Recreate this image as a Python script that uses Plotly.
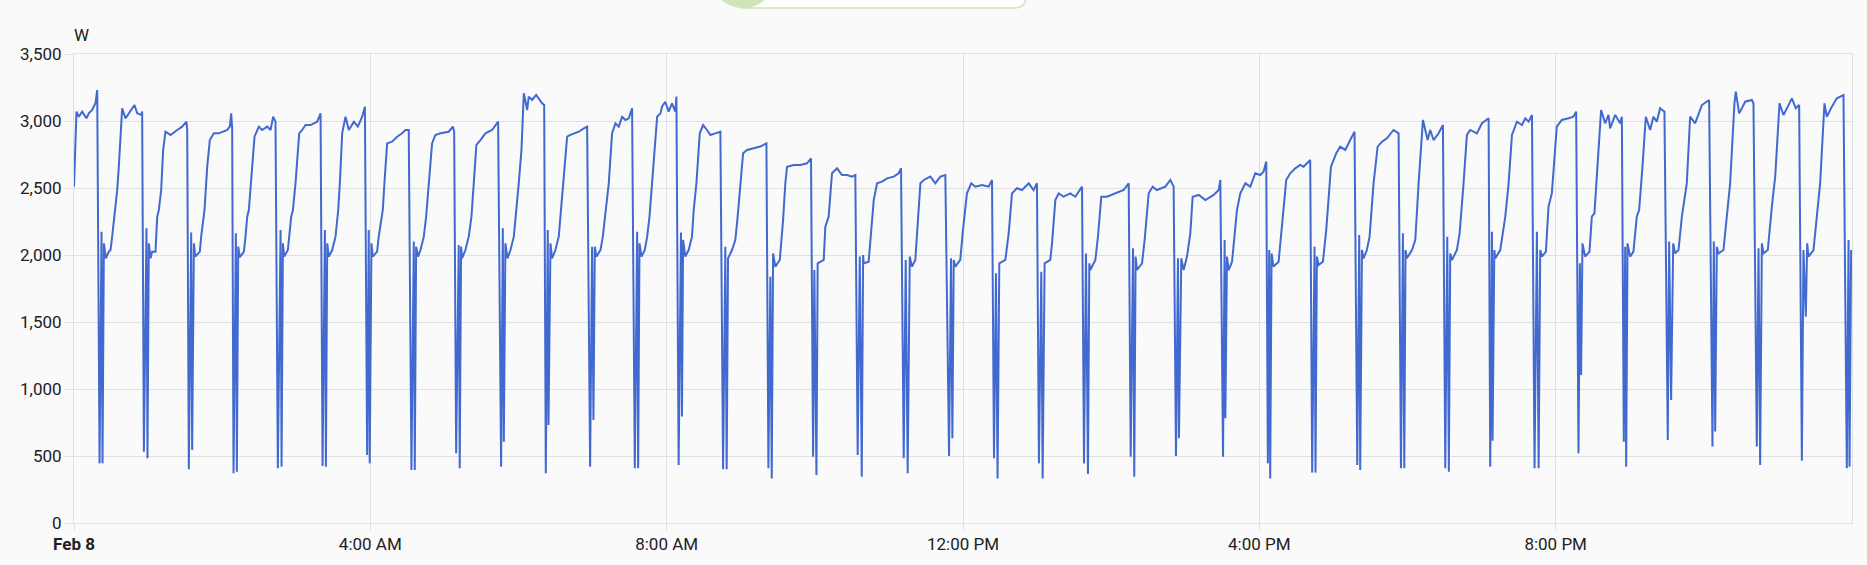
import pandas as pd
import plotly.graph_objects as go

# ---------------- data (minutes after midnight, Feb 8 -> watts) ----------------
seg1_min = [0.0, 2.0, 3.9, 6.6, 10.1, 12.0, 14.7, 17.4, 18.8,
            20.7, 22.3, 23.1, 24.2, 25.8, 28.2, 29.6, 30.9, 32.8, 35.0, 36.3, 37.7, 39.0, 41.7, 45.2, 49.0, 51.2, 54.4, 55.2,
            56.6, 58.7, 59.5, 60.6, 62.0, 63.3, 66.0, 67.4, 68.7, 70.6, 72.2, 74.1, 78.2, 83.6, 87.6, 91.1, 91.7,
            93.0, 94.9, 95.7, 97.1, 98.2, 101.9, 103.0, 104.6, 105.7, 107.9, 110.0, 113.3, 117.3, 124.1, 126.2, 127.3, 128.1,
            129.2, 131.1, 131.9, 133.0, 134.3, 137.6, 138.9, 140.3, 141.6, 143.5, 146.2, 149.7, 152.4, 156.5, 159.2, 161.3, 163.2,
            165.1, 167.3, 168.1, 169.2, 170.2, 173.2, 174.3, 175.9, 177.3, 179.4, 182.4, 184.8, 187.5, 191.6, 197.0, 199.7,
            201.3, 203.2, 204.0, 205.1, 206.4, 209.1, 211.8, 214.0, 215.3, 217.2, 219.9, 222.6, 226.7, 229.9, 233.4, 235.6,
            237.4, 238.7, 239.5, 240.9, 242.0, 245.5, 246.8, 249.0, 250.1, 251.4, 253.6, 257.6, 261.7, 265.7, 268.4, 271.1,
            273.3, 275.2, 276.0, 277.1, 278.7, 280.6, 283.3, 285.2, 287.3, 290.0, 292.7, 296.8, 303.5, 306.8, 307.9,
            309.5, 311.6, 312.4, 313.5, 314.3, 317.0, 319.7, 321.9, 323.8, 325.9, 329.2, 333.2, 338.6, 343.5,
            345.9, 347.3, 348.1, 349.4, 351.1, 353.5, 356.2, 358.1]
seg1_w = [2510, 3070, 3032, 3070, 3020, 3057, 3082, 3132, 3231,
          445, 2174, 445, 2087, 1975, 2025, 2037, 2137, 2286, 2485, 2659, 2908, 3095, 3020, 3070, 3119, 3057, 3045, 3070,
          532, 2199, 483, 2087, 1975, 2025, 2025, 2286, 2336, 2485, 2784, 2920, 2896, 2933, 2958, 2995, 2933,
          401, 2167, 545, 2087, 1988, 2025, 2137, 2286, 2336, 2659, 2858, 2908, 2908, 2933, 2958, 3057, 2945,
          371, 2162, 383, 2062, 1983, 2025, 2137, 2286, 2336, 2535, 2883, 2958, 2933, 2958, 2933, 3032, 2995,
          408, 2187, 420, 2087, 1988, 2037, 2137, 2286, 2336, 2535, 2908, 2933, 2970, 2970, 2995, 3057,
          425, 2187, 420, 2087, 1988, 2037, 2137, 2336, 2535, 2908, 3032, 2933, 2995, 2958, 3032, 3107,
          507, 2187, 445, 2087, 1988, 2025, 2137, 2286, 2336, 2535, 2833, 2846, 2883, 2908, 2933, 2933,
          395, 2100, 395, 2062, 1988, 2037, 2137, 2286, 2535, 2833, 2896, 2908, 2920, 2958, 2920,
          520, 2075, 408, 2062, 1975, 2037, 2137, 2286, 2535, 2821, 2858, 2908, 2933, 2995,
          420, 2199, 607, 2087, 1975, 2037, 2137, 2311]

seg2_min = [360.2, 362.4, 364.3, 367.0, 368.3, 371.0, 374.3, 379.1, 380.8,
            382.1, 383.7, 384.3, 385.9, 387.2, 389.9, 392.6, 394.0, 396.7, 399.4, 402.1, 404.8, 408.8, 412.9, 415.6,
            418.0, 419.6, 420.7, 421.8, 423.1, 426.4, 428.3, 429.9, 433.1, 435.8, 438.5, 441.2, 443.9, 446.6, 449.3, 452.0,
            454.2, 456.1, 456.9, 458.0, 459.6, 462.3, 464.2, 466.1, 468.2, 472.3, 475.0, 476.2, 478.9, 481.6, 484.3, 487.0, 487.9,
            489.7, 491.6, 492.4, 493.3, 495.1, 497.8, 500.5, 501.9, 504.1, 506.8, 509.5, 512.7, 515.4, 519.4, 523.5,
            525.7, 527.5, 528.6, 529.7, 532.9, 535.6, 537.5, 539.7, 541.9, 545.1, 550.5, 555.9, 560.8,
            562.4, 564.0, 565.1, 566.2, 568.0, 571.6, 574.3, 576.1, 577.5, 582.9, 588.3, 593.7, 596.9,
            598.6, 599.6, 601.3, 602.3, 607.2, 608.5, 611.2, 613.9, 618.0, 622.0, 626.1, 630.1, 632.8,
            634.7, 636.4, 638.0, 639.1, 639.6, 643.6, 645.5, 647.7, 650.4, 654.4, 658.5, 663.9, 667.9, 669.8,
            672.0, 673.6, 675.2, 676.9, 678.7, 681.4, 682.8, 685.5, 688.2, 693.6, 697.6, 701.7, 705.7,
            708.7, 710.3, 711.4, 712.5, 713.8, 717.8, 719.7]
seg2_w = [2535, 2784, 3207, 3082, 3182, 3157, 3194, 3132, 3119,
          371, 2187, 731, 2087, 1975, 2037, 2137, 2286, 2535, 2883, 2896, 2908, 2920, 2945, 2958,
          420, 2062, 769, 2062, 1988, 2037, 2137, 2286, 2535, 2908, 2983, 2958, 3032, 3008, 3020, 3095,
          408, 2174, 408, 2087, 1988, 2037, 2137, 2286, 2535, 3032, 3057, 3107, 3144, 3070, 3132, 3070, 3182,
          433, 2167, 794, 2112, 1988, 2037, 2137, 2336, 2535, 2908, 2970, 2933, 2896, 2908, 2920,
          401, 2062, 401, 1975, 2037, 2112, 2286, 2535, 2759, 2784, 2796, 2809, 2833,
          408, 1838, 333, 2012, 1913, 1963, 2261, 2535, 2659, 2672, 2672, 2684, 2722,
          495, 1888, 358, 1938, 1963, 2212, 2286, 2610, 2647, 2597, 2597, 2585, 2597,
          507, 1988, 346, 2000, 1938, 1950, 2137, 2410, 2535, 2547, 2572, 2585, 2610, 2647,
          483, 1963, 371, 1988, 1913, 1963, 2162, 2535, 2560, 2585, 2535, 2585, 2597,
          500, 1975, 632, 1963, 1913, 1963, 2162]

seg3_min = [723.2, 726.7, 730.0, 735.4, 740.8, 743.5,
            745.1, 746.7, 748.0, 749.4, 754.3, 757.0, 759.7, 763.7, 767.8, 773.2, 777.2, 779.9,
            781.5, 783.4, 784.5, 786.1, 790.7, 792.1, 794.8, 797.5, 801.5, 806.9, 811.0, 813.7, 816.4,
            818.0, 819.6, 821.2, 822.3, 823.1, 827.2, 829.3, 832.0, 836.6, 843.4, 850.1, 854.2,
            855.8, 857.7, 858.7, 859.8, 860.9, 865.0, 867.1, 870.4, 873.6, 877.1, 883.9, 887.9, 890.6,
            892.5, 894.1, 894.9, 896.8, 898.7, 901.4, 904.1, 906.0, 910.9, 916.3, 923.0, 927.1, 928.4,
            930.6, 931.9, 932.5, 933.8, 935.2, 937.9, 940.0, 941.9, 944.6, 948.7, 952.7, 956.7, 960.7, 963.4, 965.6,
            966.9, 968.0, 968.8, 969.9, 971.5, 975.6, 976.9, 979.1, 981.8, 985.0, 989.1, 993.1, 995.8, 1001.2,
            1002.8, 1004.7, 1005.5, 1006.6, 1008.0, 1011.5, 1014.2, 1018.0, 1022.3, 1025.5, 1029.6, 1033.6, 1037.1,
            1039.3, 1040.9, 1041.7, 1043.1, 1044.4, 1047.1, 1049.3, 1052.5, 1055.8, 1059.3, 1063.3, 1068.7, 1072.8,
            1074.7, 1076.3, 1077.4, 1078.4, 1079.5]
seg3_w = [2460, 2535, 2510, 2523, 2510, 2560,
          483, 1863, 333, 1938, 1963, 2162, 2460, 2498, 2485, 2535, 2485, 2535,
          445, 1875, 333, 1938, 1963, 2087, 2410, 2460, 2435, 2460, 2435, 2473, 2510,
          445, 2012, 366, 1938, 1888, 1963, 2137, 2435, 2435, 2460, 2485, 2535,
          495, 2050, 346, 1988, 1888, 1938, 2112, 2460, 2510, 2485, 2510, 2560, 2510,
          500, 1975, 632, 1975, 1888, 1988, 2162, 2435, 2448, 2410, 2448, 2485, 2560,
          495, 2112, 781, 1988, 1888, 1950, 2137, 2336, 2460, 2535, 2510, 2610, 2597, 2622, 2697,
          445, 2037, 333, 2012, 1913, 1950, 2087, 2286, 2560, 2610, 2647, 2672, 2659, 2709,
          376, 2062, 376, 1988, 1925, 1950, 2187, 2659, 2759, 2809, 2784, 2858, 2920,
          433, 2149, 395, 2037, 1975, 2037, 2137, 2535, 2809, 2846, 2871, 2933, 2908,
          408, 2162, 408, 2037, 1975]

seg4_min = [1083.6, 1086.3, 1089.0, 1090.9, 1092.5, 1096.3, 1098.4, 1101.1, 1105.2, 1108.7,
            1110.6, 1112.2, 1113.5, 1114.6, 1116.0, 1120.0, 1122.2, 1125.4, 1128.1, 1130.8, 1136.2, 1140.3, 1145.7,
            1147.0, 1148.4, 1148.9, 1150.3, 1151.1, 1155.1, 1159.2, 1161.9, 1164.6, 1168.6, 1172.7, 1175.4, 1178.1, 1180.8,
            1182.9, 1184.8, 1186.2, 1187.5, 1188.9, 1192.1, 1194.2, 1196.9, 1200.9, 1205.0, 1210.4, 1214.4, 1216.6,
            1218.5, 1219.6, 1220.6, 1221.7, 1223.9, 1227.4, 1229.3, 1231.4, 1234.1, 1236.8, 1240.1, 1242.8, 1244.1, 1248.2, 1252.2, 1253.6,
            1255.2, 1256.3, 1257.1, 1258.2, 1260.3, 1263.0, 1265.7, 1267.6, 1270.3, 1273.0, 1276.5, 1279.2, 1281.9, 1284.6, 1288.1,
            1290.8, 1291.9, 1293.5, 1295.2, 1296.8, 1299.5, 1302.2, 1306.2, 1308.9, 1313.0, 1315.7, 1318.4, 1324.3,
            1327.0, 1328.1, 1329.2, 1330.5, 1331.9, 1335.9, 1338.6, 1341.3, 1344.8, 1345.9, 1348.6, 1353.5, 1358.9, 1360.2,
            1362.9, 1364.3, 1365.6, 1367.0, 1368.3, 1371.8, 1375.1, 1377.8, 1381.3, 1384.5, 1388.0, 1391.3, 1394.5, 1397.2,
            1399.4, 1400.7, 1402.6, 1403.7, 1404.8, 1408.8, 1411.5, 1414.2, 1417.7, 1419.6, 1423.7, 1427.7, 1433.1,
            1435.8, 1437.2, 1438.0, 1439.3]
seg4_w = [2037, 2112, 2535, 2784, 3008, 2858, 2933, 2858, 2908, 2970,
          408, 2137, 383, 2012, 1963, 2037, 2162, 2535, 2896, 2933, 2908, 2983, 3020,
          420, 2174, 614, 2037, 1975, 2037, 2286, 2535, 2896, 2995, 2970, 3020, 2995, 3045,
          408, 2174, 408, 2037, 1988, 2025, 2361, 2460, 2958, 3008, 3020, 3032, 3070,
          520, 1938, 1104, 2087, 1988, 2025, 2286, 2311, 2659, 3082, 2983, 3045, 2945, 3045, 2983, 3032,
          607, 2062, 420, 2087, 1988, 2025, 2286, 2336, 2659, 3032, 2933, 3032, 2995, 3095, 3070,
          619, 2100, 918, 2087, 2012, 2037, 2286, 2535, 3032, 2983, 3057, 3119, 3157,
          570, 2100, 682, 2062, 2012, 2037, 2311, 2535, 3132, 3219, 3057, 3144, 3157, 3132,
          570, 2050, 433, 2087, 2012, 2037, 2361, 2585, 3132, 3045, 3107, 3169, 3095, 3119,
          465, 2037, 1540, 2087, 1988, 2037, 2286, 2535, 3132, 3032, 3107, 3169, 3194,
          408, 2112, 420, 2037]

tick_hours = [0, 4, 8, 12, 16, 20]
tick_labels = ["<b>Feb 8</b>", "4:00 AM", "8:00 AM", "12:00 PM", "4:00 PM", "8:00 PM"]
unit_label = "W"

# ---------------- build ----------------
day = pd.Timestamp("2024-02-08")
minutes = seg1_min + seg2_min + seg3_min + seg4_min
watts = seg1_w + seg2_w + seg3_w + seg4_w
times = day + pd.to_timedelta(minutes, unit="min")

LINE = "#4269d0"
GRID = "#e0e0e0"
TXT = "#212121"
BG = "#fafafa"
FONT = "Roboto"
FS = 17

fig = go.Figure()
fig.add_trace(go.Scatter(x=times, y=watts, mode="lines",
                         line=dict(color=LINE, width=2), hoverinfo="skip", showlegend=False))

tickvals = [day + pd.Timedelta(hours=h) for h in tick_hours]

W, H = 1867, 565
ML, MR, MT, MB = 74, 15, 54, 42
pw, ph = W - ML - MR, H - MT - MB


def px_x(x):
    return (x - ML) / pw


def px_y(y):
    return (H - MB - y) / ph


fig.update_layout(
    width=W, height=H,
    margin=dict(l=ML, r=MR, t=MT, b=MB, pad=0),
    paper_bgcolor=BG, plot_bgcolor=BG,
    font=dict(family=FONT, size=FS, color=TXT),
    showlegend=False,
    xaxis=dict(
        range=[day, day + pd.Timedelta(hours=24)],
        tickvals=tickvals, ticktext=tick_labels,
        showgrid=True, gridcolor=GRID, gridwidth=1,
        showline=True, linecolor=GRID, linewidth=1, mirror=True,
        ticks="outside", ticklen=6, tickcolor=GRID,
        zeroline=False, tickfont=dict(size=FS, color=TXT),
    ),
    yaxis=dict(
        range=[0, 3500], dtick=500, tick0=0, tickformat=",d",
        showgrid=True, gridcolor=GRID, gridwidth=1,
        showline=True, linecolor=GRID, linewidth=1, mirror=True,
        ticks="outside", ticklen=8, tickcolor=GRID,
        zeroline=False, tickfont=dict(size=FS, color=TXT),
    ),
    annotations=[dict(text=unit_label, xref="paper", yref="paper",
                      x=px_x(72), y=px_y(35), xanchor="left", yanchor="middle",
                      showarrow=False, font=dict(size=FS, color=TXT, family=FONT))],
    shapes=[
        dict(type="path", xref="paper", yref="paper",
             path=(f"M {px_x(742)},{px_y(8)} L {px_x(1014)},{px_y(8)} "
                   f"Q {px_x(1026)},{px_y(8)} {px_x(1026)},{px_y(-4)} L {px_x(1026)},{px_y(-30)} "
                   f"L {px_x(742)},{px_y(-30)} Z"),
             fillcolor="#ffffff", line=dict(color="#cde6b6", width=1.5), layer="above"),
        dict(type="circle", xref="paper", yref="paper",
             x0=px_x(743 - 32.5), x1=px_x(743 + 32.5), y0=px_y(8.3), y1=px_y(8.3 - 65),
             fillcolor="#cfe5b8", line=dict(width=0), layer="above"),
    ],
)

fig.write_html(
    "out.html",
    config={"displayModeBar": False},
    post_script="document.body.style.margin='0';document.body.style.background='#fafafa';"
                "document.body.style.overflow='hidden';",
)
